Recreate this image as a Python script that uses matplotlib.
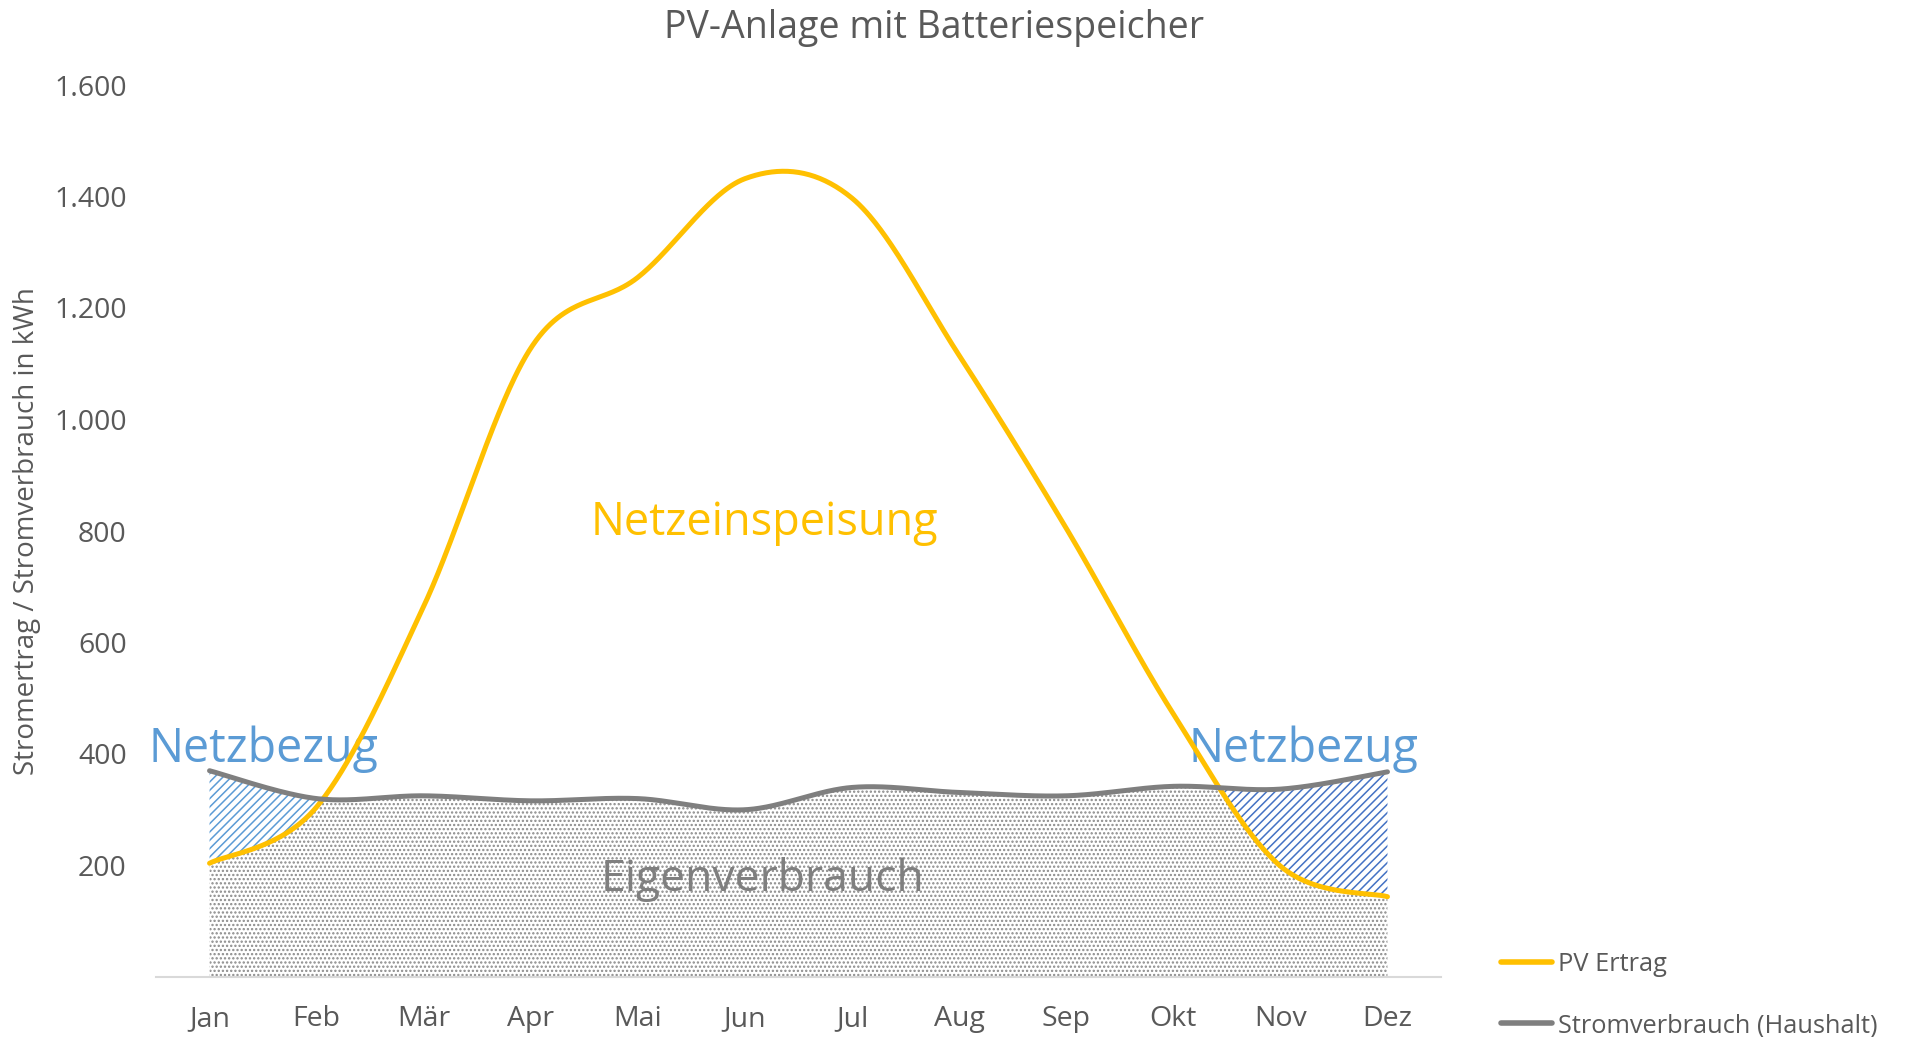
import numpy as np
import matplotlib
matplotlib.use("Agg")
import matplotlib.pyplot as plt
from matplotlib.lines import Line2D

plt.rcParams['font.family'] = ['Open Sans', 'DejaVu Sans']
plt.rcParams['hatch.linewidth'] = 1.1

months = ["Jan", "Feb", "Mär", "Apr", "Mai", "Jun", "Jul", "Aug", "Sep", "Okt", "Nov", "Dez"]
pv_ertrag = [204, 305, 665, 1128, 1255, 1432, 1397, 1115, 805, 472, 199, 144]
verbrauch = [370, 320, 325, 316, 320, 300, 340, 331, 325, 342, 337, 368]
yticks = [200, 400, 600, 800, 1000, 1200, 1400, 1600]

YELLOW = "#FFC000"
GRAY = "#7F7F7F"
TEXT = "#595959"


def smooth(xs, ys, n=60):
    P = np.column_stack([xs, ys]).astype(float)
    out = []
    N = len(P)
    for i in range(N - 1):
        p0 = P[i - 1] if i > 0 else P[i]
        p1 = P[i]
        p2 = P[i + 1]
        p3 = P[i + 2] if i + 2 < N else P[i + 1]
        c1 = p1 + (p2 - p0) / 6.0
        c2 = p2 - (p3 - p1) / 6.0
        t = np.linspace(0, 1, n, endpoint=(i == N - 2))[:, None]
        b = ((1 - t) ** 3) * p1 + 3 * ((1 - t) ** 2) * t * c1 + 3 * (1 - t) * t ** 2 * c2 + t ** 3 * p2
        out.append(b)
    out = np.vstack(out)
    return out[:, 0], out[:, 1]


x_idx = np.arange(len(months))
sx, s_pv = smooth(x_idx, pv_ertrag)
_, s_cons = smooth(x_idx, verbrauch)

fig = plt.figure(figsize=(19.09, 10.37), dpi=100)
ax = fig.add_axes([156 / 1909, 1 - 977 / 1037, (1441 - 156) / 1909, (977 - 85) / 1037])

low = np.minimum(s_pv, s_cons)
ax.fill_between(sx, 0, low, facecolor="none", edgecolor="#8a8a8a", hatch="....", linewidth=0)
left = sx < 5.5
ax.fill_between(sx[left], s_pv[left], s_cons[left], where=s_pv[left] < s_cons[left], interpolate=True,
                facecolor="none", edgecolor="#5B9BD5", hatch="////", linewidth=0)
right = sx >= 5.5
ax.fill_between(sx[right], s_pv[right], s_cons[right], where=s_pv[right] < s_cons[right], interpolate=True,
                facecolor="none", edgecolor="#4472C4", hatch="////", linewidth=0)

ax.plot(sx, s_pv, color=YELLOW, lw=3.6, solid_capstyle="round", zorder=5)
ax.plot(sx, s_cons, color=GRAY, lw=3.6, solid_capstyle="round", zorder=5)

ax.set_xlim(-0.5, 11.5)
ax.set_ylim(0, 1600)
ax.set_xticks(x_idx)
ax.set_xticklabels(months)
ax.set_yticks(yticks)
ax.set_yticklabels([f"{v:,}".replace(",", ".") for v in yticks])
ax.tick_params(axis="both", length=0, labelsize=20.5, colors=TEXT)
ax.tick_params(axis="y", pad=21)
ax.tick_params(axis="x", pad=20)
for s in ["top", "right", "left"]:
    ax.spines[s].set_visible(False)
ax.spines["bottom"].set_color("#D9D9D9")
ax.spines["bottom"].set_linewidth(1.5)

ax.text(5.18, 815, "Netzeinspeisung", color=YELLOW, fontsize=32.5, ha="center", va="center")
ax.text(0.5, 408, "Netzbezug", color="#5B9BD5", fontsize=33.5, ha="center", va="center")
ax.text(10.22, 408, "Netzbezug", color="#5B9BD5", fontsize=33.5, ha="center", va="center")
ax.text(5.16, 175, "Eigenverbrauch", color=GRAY, fontsize=32, ha="center", va="center")

fig.text(934 / 1909, 1 - 28 / 1037, "PV-Anlage mit Batteriespeicher", color=TEXT, fontsize=27,
         ha="center", va="center")
fig.text(27 / 1909, 1 - 531 / 1037, "Stromertrag / Stromverbrauch in kWh", color=TEXT, fontsize=20,
         ha="center", va="center", rotation=90)

handles = [Line2D([], [], color=YELLOW, lw=4, solid_capstyle="round"),
           Line2D([], [], color=GRAY, lw=4, solid_capstyle="round")]
fig.legend(handles, ["PV Ertrag", "Stromverbrauch (Haushalt)"], loc="center left",
           bbox_to_anchor=(1501 / 1909, 1 - 995 / 1037), frameon=False, fontsize=18.3,
           handlelength=2.0, handletextpad=0.25, labelspacing=1.42, borderpad=0, borderaxespad=0,
           labelcolor=TEXT)

fig.savefig("out.png", dpi=100)
